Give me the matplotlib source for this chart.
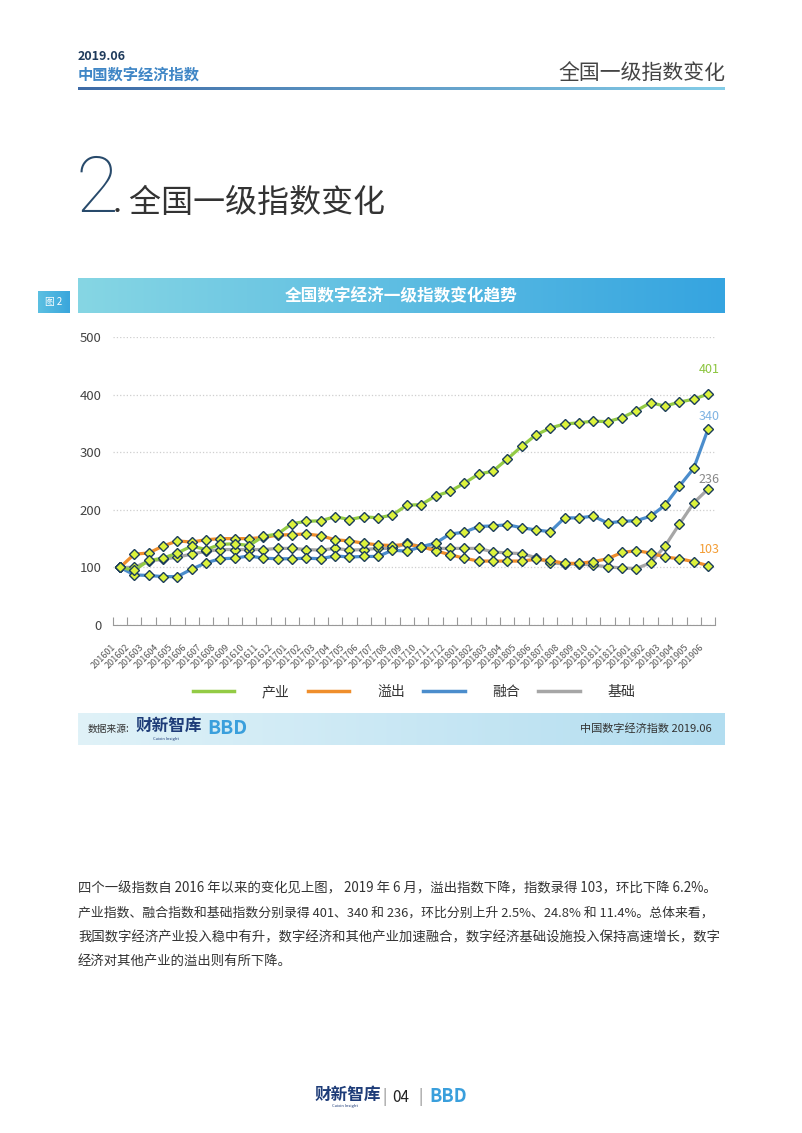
import matplotlib
matplotlib.use('Agg')
import matplotlib.pyplot as plt
import matplotlib.transforms as mtransforms
import numpy as np
from matplotlib.colors import LinearSegmentedColormap
from matplotlib.lines import Line2D

plt.rcParams['font.family'] = ['Noto Sans CJK SC', 'DejaVu Sans']

# data
months = ['2016%02d' % m for m in range(1, 13)] + ['2017%02d' % m for m in range(1, 13)] \
    + ['2018%02d' % m for m in range(1, 13)] + ['2019%02d' % m for m in range(1, 7)]
chanye = [100, 95, 112, 116, 125, 137, 131, 140, 141, 138, 154, 158,
          176, 180, 181, 188, 183, 188, 186, 191, 208, 209, 224, 232,
          246, 262, 267, 288, 310, 330, 342, 349, 351, 354, 353, 360,
          372, 386, 380, 387, 392, 401]
yichu = [100, 123, 125, 137, 146, 144, 148, 150, 150, 150, 152, 156,
         157, 158, 155, 148, 146, 142, 139, 138, 140, 136, 129, 122,
         116, 111, 111, 111, 111, 114, 112, 107, 107, 110, 115, 126,
         129, 125, 118, 115, 110, 103]
ronghe = [100, 87, 86, 84, 84, 97, 108, 115, 116, 120, 116, 115,
          115, 116, 115, 120, 118, 119, 119, 130, 128, 136, 142, 158,
          161, 171, 172, 174, 169, 165, 162, 186, 186, 189, 177, 180,
          181, 189, 208, 241, 272, 340]
jichu = [100, 100, 111, 114, 118, 123, 128, 131, 131, 131, 131, 133,
         133, 131, 130, 133, 130, 131, 133, 133, 142, 136, 133, 133,
         133, 133, 127, 125, 124, 117, 108, 106, 106, 104, 101, 99,
         98, 108, 137, 175, 212, 236]
names = ['产业', '溢出', '融合', '基础']
colors = ['#93cb45', '#ef8e2c', '#4b8dcc', '#a6a6a6']
label_colors = ['#8cc53f', '#f39c34', '#7fb3e3', '#888888']

W, H = 802, 1133
fig = plt.figure(figsize=(W / 100, H / 100), dpi=100)
bg = fig.add_axes([0, 0, 1, 1])
bg.axis('off')


def grad(x0, x1, y0, y1, c0, c1):
    cmap = LinearSegmentedColormap.from_list('g', [c0, c1])
    bg.imshow(np.linspace(0, 1, 256).reshape(1, -1), cmap=cmap,
              extent=(x0, x1, y1, y0), aspect='auto', zorder=1)


# header
bg.text(78, 56, '2019.06', fontsize=9, color='#1f3b5c', fontweight='bold', va='center')
bg.text(78, 75, '中国数字经济指数', fontsize=11, color='#3f86c6', fontweight='bold', va='center')
bg.text(725, 73, '全国一级指数变化', fontsize=15, color='#444444', ha='right', va='center')
grad(78, 725, 87, 90, '#3d6aa6', '#84cde8')

# section title
bg.text(75, 191, '2', fontsize=56, color='#284a6b', va='center',
        family=['Roboto', 'DejaVu Sans'], fontweight='light')
bg.text(113, 203, '. 全国一级指数变化', fontsize=23, color='#333333', va='center', fontweight='light')

# chart banner
grad(78, 725, 278, 313, '#86d6e4', '#35a4e0')
bg.text(401, 296, '全国数字经济一级指数变化趋势', fontsize=12, color='white',
        fontweight='bold', ha='center', va='center', zorder=3)
grad(38, 70, 291, 313, '#5cc0e2', '#3aa6dc')
bg.text(54, 302, '图 2', fontsize=7, color='white', ha='center', va='center', zorder=3)

# bottom source banner
grad(78, 725, 713, 745, '#e0f2f8', '#b2ddf0')
bg.text(88, 729, '数据来源:', fontsize=7, color='#333333', va='center', zorder=3)
bg.text(136, 726, '财新智库', fontsize=12, color='#1e3c78', fontweight='bold', va='center', zorder=3)
bg.text(166, 739, 'Caixin Insight', fontsize=3, color='#1e3c78', ha='center', va='center', zorder=3)
bg.text(207, 729, 'BBD', fontsize=14, color='#3a9fdc', fontweight='bold', va='center', zorder=3)
bg.text(712, 729, '中国数字经济指数 2019.06', fontsize=8, color='#333333', ha='right', va='center', zorder=3)

# paragraph
para = ['四个一级指数自 2016 年以来的变化见上图， 2019 年 6 月，溢出指数下降，指数录得 103，环比下降 6.2%。',
        '产业指数、融合指数和基础指数分别录得 401、340 和 236，环比分别上升 2.5%、24.8% 和 11.4%。总体来看，',
        '我国数字经济产业投入稳中有升，数字经济和其他产业加速融合，数字经济基础设施投入保持高速增长，数字',
        '经济对其他产业的溢出则有所下降。']
sizes = [9.65, 9.25, 9.6, 9.6]
for k, line in enumerate(para):
    bg.text(78, 888 + k * 24.7, line, fontsize=sizes[k], color='#333333', va='center')

# footer
bg.text(315, 1095, '财新智库', fontsize=12, color='#1e3c78', fontweight='bold', va='center')
bg.text(345, 1106, 'Caixin Insight', fontsize=3, color='#1e3c78', ha='center', va='center')
bg.text(384, 1097, '|', fontsize=11, color='#888888', ha='center', va='center')
bg.text(401, 1097, '04', fontsize=11, color='#222222', ha='center', va='center')
bg.text(420, 1097, '|', fontsize=11, color='#888888', ha='center', va='center')
bg.text(429, 1097, 'BBD', fontsize=13, color='#3a9fdc', fontweight='bold', va='center')

bg.set_xlim(0, W)
bg.set_ylim(H, 0)

# chart
ax = fig.add_axes([112.8 / W, 1 - 625 / H, (715.2 - 112.8) / W, (625 - 337) / H])
ax.patch.set_alpha(0)
x = np.arange(len(months))
series = [chanye, yichu, ronghe, jichu]
for s, c, z in zip(series, colors, [5, 3, 4, 2]):
    ax.plot(x, s, color=c, lw=2.3, marker='D', markersize=4.6, markerfacecolor='#dcf23c',
            markeredgecolor='#1c3d5a', markeredgewidth=1, zorder=z)

offsets = [17.5, 11.5, 9.4, 7.2]
for s, c, off in zip(series, label_colors, offsets):
    ax.annotate(str(s[-1]), (x[-1], s[-1]), xytext=(1, off), textcoords='offset points',
                ha='center', va='center', fontsize=9, color=c)

ax.set_xlim(-0.5, 41.5)
ax.set_ylim(0, 500)
ax.set_yticks([0, 100, 200, 300, 400, 500])
ax.tick_params(axis='y', length=0, labelsize=9.5, labelcolor='#444444', pad=8)
ax.set_xticks(x)
ax.set_xticklabels(months, rotation=45, ha='right', va='center', rotation_mode='anchor',
                   fontsize=6.5, color='#555555')
ax.tick_params(axis='x', which='major', length=0, pad=15)
shift = mtransforms.ScaledTranslation(-0.06, 0, fig.dpi_scale_trans)
for lab in ax.get_xticklabels():
    lab.set_transform(lab.get_transform() + shift)
ax.set_xticks(np.arange(-0.5, 42, 1), minor=True)
ax.tick_params(axis='x', which='minor', length=6, direction='in', color='#999999', width=0.8)
ax.grid(axis='y', color='#cfcfcf', linestyle=':', lw=0.9)
ax.set_axisbelow(True)
for sp in ['top', 'right', 'left']:
    ax.spines[sp].set_visible(False)
ax.spines['bottom'].set_color('#999999')
ax.spines['bottom'].set_linewidth(0.8)

handles = [Line2D([], [], color=c, lw=2.5) for c in colors]
ax.legend(handles, names, loc='center', bbox_to_anchor=(0.5, (625 - 692) / (625 - 337)),
          ncol=4, frameon=False, handlelength=3, handletextpad=2, columnspacing=1.3,
          prop={'size': 10}, labelcolor='#333333')

fig.savefig('out.png', dpi=100)
